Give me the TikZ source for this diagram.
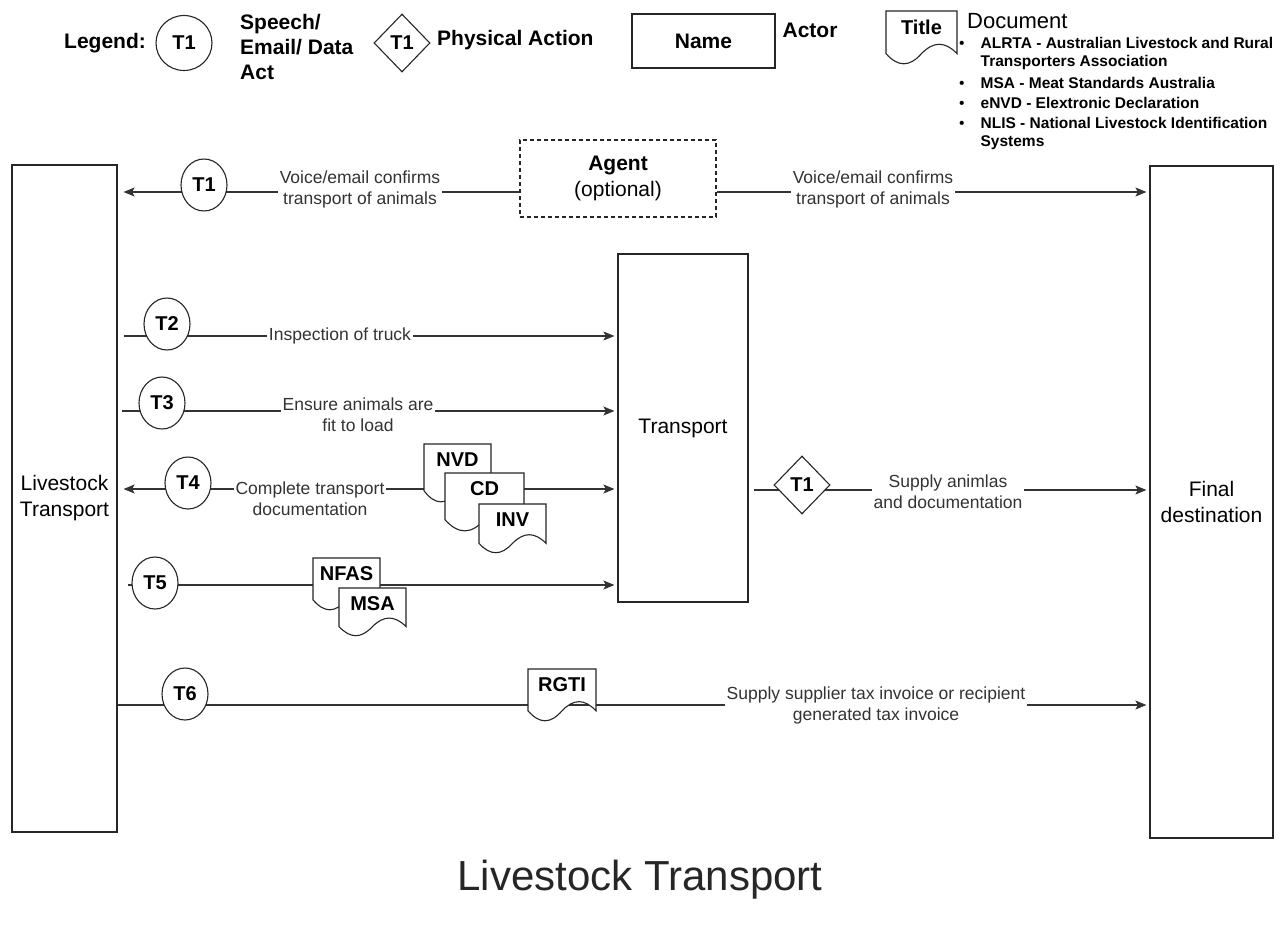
\documentclass[tikz,border=0pt]{standalone}
\usepackage{fontspec}
\setmainfont{Liberation Sans}
\usetikzlibrary{arrows.meta,shapes.geometric,calc}

\newcommand{\fsz}[2]{\fontsize{#1}{#2}\selectfont}
% #1 name, #2 x, #3 y (top left), #4 width, #5 height, #6 text
\newcommand{\docnode}[6]{%
  \draw[line width=1.1pt, draw=black!85, fill=white] (#2,#3) -- (#2+#4,#3) -- (#2+#4,#3+0.82*#5)
    .. controls (#2+0.83*#4,#3+0.58*#5) and (#2+0.67*#4,#3+0.58*#5) .. (#2+0.5*#4,#3+0.82*#5)
    .. controls (#2+0.33*#4,#3+1.08*#5) and (#2+0.17*#4,#3+1.08*#5) .. (#2,#3+0.82*#5) -- cycle;
  \node[doctitle] (#1) at (#2+#4/2,#3+16) {#6};}

\tikzset{
  actor/.style={draw=black!85, line width=1.2pt, inner sep=0pt, align=center, font=\fsz{21}{26}},
  act/.style={draw=black!85, ellipse, fill=white, line width=1.1pt, inner sep=0pt,
    minimum width=46pt, minimum height=52pt, font=\fsz{20}{22}\bfseries},
  phys/.style={draw=black!85, diamond, fill=white, line width=1.1pt, inner sep=0pt,
    minimum width=56pt, minimum height=58pt, font=\fsz{20}{22}\bfseries},
  lbl/.style={fill=white, inner sep=2pt, align=center, font=\fsz{17.5}{21}, text=black!80},
  flow/.style={line width=1.2pt, draw=black!80, shorten >=3pt},
  doctitle/.style={font=\fsz{20}{22}\bfseries, inner sep=0pt},
  legtext/.style={font=\fsz{21}{25}\bfseries, inner sep=0pt, align=left}
}

\begin{document}
\begin{tikzpicture}[x=1pt, y=-1pt, >={Stealth[length=11pt,width=9pt,inset=2.5pt]}]
  \useasboundingbox[fill=white] (0,0) rectangle (1287,936);

  % legend
  \node[legtext] (leg) at (105,43) {Legend:};
  \node[act, minimum width=56pt, minimum height=55pt] (legact) at (184,43) {T1};
  \node[legtext, anchor=west] (legacttxt) at (240,47) {Speech/\\Email/ Data\\Act};
  \node[phys] (legphys) at (402,43) {T1};
  \node[legtext, anchor=west] (legphystxt) at (437,40) {Physical Action};
  \node[actor, minimum width=143pt, minimum height=54pt, font=\fsz{21}{25}\bfseries] (legactor) at (703.5,41) {Name};
  \node[legtext] (legactortxt) at (810,30) {Actor};
  \docnode{legdoc}{886}{11}{71}{52}{Title}
  \node[anchor=west, inner sep=0pt, font=\fsz{22}{26}] (legdoctxt) at (967,21) {Document};
  \node[anchor=north west, inner sep=0pt, font=\fsz{15.5}{18}\bfseries] (abbr) at (959,36) {%
    \begin{tabular}{@{}l@{\hspace{16pt}}l@{}}
      {\mdseries\textbullet} & ALRTA - Australian Livestock and Rural\\
       & Transporters Association\\[4pt]
      {\mdseries\textbullet} & MSA - Meat Standards Australia\\[2pt]
      {\mdseries\textbullet} & eNVD - Elextronic Declaration\\[2pt]
      {\mdseries\textbullet} & NLIS - National Livestock Identification\\
       & Systems
    \end{tabular}};

  % actors
  \node[actor, minimum width=105pt, minimum height=667pt] (livestock) at (64.5,498.5) {Livestock\\Transport};
  \node[actor, dashed, dash pattern=on 4pt off 3pt, minimum width=196pt, minimum height=77pt] (agent) at (618,178.5) {{\bfseries Agent}\\(optional)};
  \node[actor, minimum width=130pt, minimum height=348pt] (transport) at (683,428) {Transport};
  \node[actor, minimum width=123pt, minimum height=672pt] (final) at (1211.5,502) {Final\\destination};

  \foreach \n/\y in {1/192,2/336,3/411,4/489,5/585,6/705,7/490}
    \coordinate (r\n) at (0,\y);

  \draw[flow,->,shorten >=6pt] (agent.west |- r1) -- (livestock.east |- r1);
  \draw[flow,->] (agent.east |- r1) -- (final.west |- r1);
  \draw[flow,->,shorten <=6pt] (livestock.east |- r2) -- (transport.west |- r2);
  \draw[flow,->,shorten <=4pt] (livestock.east |- r3) -- (transport.west |- r3);
  \draw[flow,<->,shorten <=6pt] (livestock.east |- r4) -- (transport.west |- r4);
  \draw[flow,->,shorten <=10pt] (livestock.east |- r5) -- (transport.west |- r5);
  \draw[flow,->] (livestock.east |- r6) -- (final.west |- r6);
  \draw[flow,->,shorten <=5pt] (transport.east |- r7) -- (final.west |- r7);

  % documents
  \docnode{nvd}{424}{444}{67}{57}{NVD}
  \docnode{cd}{445}{473}{79}{57}{CD}
  \docnode{inv}{479}{504}{67}{48}{INV}
  \docnode{nfas}{313}{558}{67}{51}{NFAS}
  \docnode{msa}{339}{588}{67}{47}{MSA}
  \docnode{rgti}{528}{669}{68}{51}{RGTI}

  % acts
  \node[act] (t1) at (204,185) {T1};
  \node[act] (t2) at (167,324) {T2};
  \node[act] (t3) at (162,403) {T3};
  \node[act] (t4) at (188,483) {T4};
  \node[act] (t5) at (155,583) {T5};
  \node[act] (t6) at (185,694) {T6};
  \node[phys] (t1phys) at (802,485) {T1};

  \node[lbl] (l1a) at (360,189) {Voice/email confirms\\transport of animals};
  \node[lbl] (l1b) at (873,189) {Voice/email confirms\\transport of animals};
  \node[lbl] (l2) at (340,336) {Inspection of truck};
  \node[lbl] (l3) at (358,415) {Ensure animals are\\fit to load};
  \node[lbl] (l4) at (310,499) {Complete transport\\documentation};
  \node[lbl] (l7) at (948,492) {Supply animlas\\and documentation};
  \node[lbl] (l6) at (876,705) {Supply supplier tax invoice or recipient\\generated tax invoice};

  \node[font=\fsz{42}{50}, text=black!85] (title) at (640,880) {Livestock Transport};
\end{tikzpicture}
\end{document}
